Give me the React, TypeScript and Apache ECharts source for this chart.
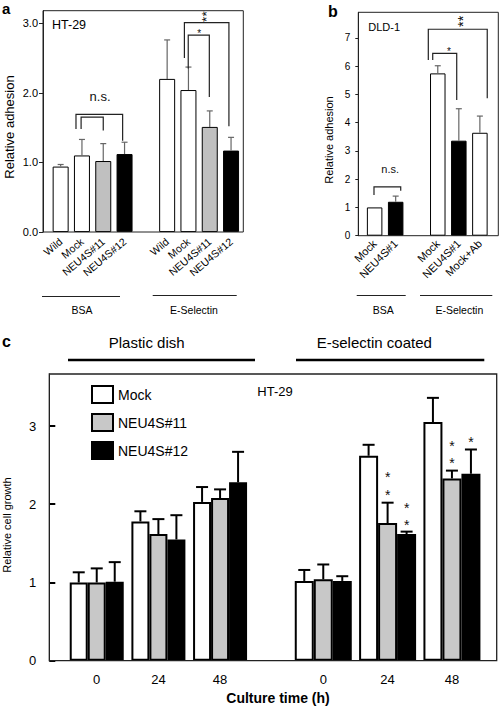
import React, { useEffect, useRef } from 'react';
import * as echarts from 'echarts';

const FONT = '"Liberation Sans", Arial, Helvetica, sans-serif';

// ---------- Panel a : HT-29 relative adhesion ----------
const aCategories = ['Wild', 'Mock', 'NEU4S#11', 'NEU4S#12', '', 'Wild', 'Mock', 'NEU4S#11', 'NEU4S#12'];
const aValues = [0.94, 1.1, 1.02, 1.12, null, 2.2, 2.04, 1.51, 1.17];
const aErrTop = [0.97, 1.33, 1.27, 1.29, null, 2.76, 2.37, 1.74, 1.36];
const aTicks = [0, 1, 2, 3];
const aTickLabels = ['0.0', '1.0', '2.0', '3.0'];
// significance brackets: [left pos, right pos (category units), top, left leg end, right leg end]
const aBrackets = [
  [0.72, 2.91, 1.69, 1.48, 1.31],
  [0.96, 2.0, 1.65, 1.48, 1.46],
  [5.81, 7.9, 3.01, 2.5, 1.52],
  [5.99, 6.98, 2.83, 2.35, 1.94],
];
const aMarkText = ['n.s.', '**', '*'];
const aMarkPos = [[1.85, 1.93], [6.7, 3.095], [6.5, 2.88]];

// ---------- Panel b : DLD-1 relative adhesion ----------
const bCategories = ['Mock', 'NEU4S#1', '', 'Mock', 'NEU4S#1', 'Mock+Ab'];
const bValues = [1.0, 1.2, null, 5.74, 3.36, 3.64];
const bErrTop = [null, 1.4, null, 6.01, 4.49, 4.23];
const bTicks = [0, 1, 2, 3, 4, 5, 6, 7];
const bTickLabels = ['0', '1', '2', '3', '4', '5', '6', '7'];
const bBrackets = [
  [-0.03, 1.24, 1.73, 1.44, 1.59],
  [2.76, 3.9, 6.45, 6.21, 4.8],
  [2.55, 5.35, 7.3, 6.21, 4.86],
];
const bMarkText = ['n.s.', '*', '**'];
const bMarkPos = [[0.74, 2.32], [3.53, 6.59], [4.02, 7.58]];

// group labels under panels a and b
const adhesionGroups = ['BSA', 'E-Selectin'];

// ---------- Panel c : HT-29 relative cell growth ----------
const cTimes = ['0', '24', '48'];
const cClones = ['Mock', 'NEU4S#11', 'NEU4S#12'];
const cTicks = [0, 1, 2, 3];
const cTickLabels = ['0', '1', '2', '3'];
const plasticMock = [1.0, 1.78, 2.03];
const plasticMockErr = [1.13, 1.91, 2.22];
const plastic11 = [1.0, 1.62, 2.08];
const plastic11Err = [1.18, 1.81, 2.19];
const plastic12 = [1.01, 1.55, 2.28];
const plastic12Err = [1.26, 1.86, 2.67];
const eselMock = [1.02, 2.62, 3.05];
const eselMockErr = [1.16, 2.76, 3.36];
const esel11 = [1.04, 1.76, 2.33];
const esel11Err = [1.23, 2.02, 2.43];
const esel12 = [1.02, 1.62, 2.39];
const esel12Err = [1.08, 1.65, 2.7];
// stars: [time index, clone index, value]
const cStars = [
  [1, 1, 2.39], [1, 1, 2.16],
  [1, 2, 2.0], [1, 2, 1.78],
  [2, 1, 2.79], [2, 1, 2.57],
  [2, 2, 2.84],
];

const fillFor = (name: string) =>
  name.startsWith('NEU4S#11') ? '#c0c0c0' : name.startsWith('NEU4S') ? '#000' : '#fff';

function errorSeries(
  xAxisIndex: number, yAxisIndex: number, values: any[], errs: any[],
  color: string, width: number, cap: number, offset: number,
) {
  const data: any[] = [];
  values.forEach((v, i) => {
    if (v != null && errs[i] != null) data.push([i, v, errs[i]]);
  });
  return {
    type: 'custom', xAxisIndex, yAxisIndex, data, z: 5, silent: true,
    encode: { x: 0, y: [1, 2] },
    renderItem: (params: any, api: any) => {
      const i = api.value(0), lo = api.value(1), hi = api.value(2);
      const p0 = api.coord([i, lo]);
      const p1 = api.coord([i, hi]);
      const x = p0[0] + offset;
      const st = { stroke: color, lineWidth: width };
      return {
        type: 'group', children: [
          { type: 'line', shape: { x1: x, y1: p0[1], x2: x, y2: p1[1] }, style: st },
          { type: 'line', shape: { x1: x - cap / 2, y1: p1[1], x2: x + cap / 2, y2: p1[1] }, style: st },
        ],
      };
    },
  };
}

// double star "**" is drawn as one vertically stacked text (rotated a quarter turn)
function annotationSeries(
  xAxisIndex: number, yAxisIndex: number, brackets: number[][], markPos: number[][], markText: string[],
  fsText: number, fsStar: number, fsDouble: number,
) {
  return {
    type: 'custom', xAxisIndex, yAxisIndex, data: [[0, 0]], z: 6, silent: true,
    renderItem: (params: any, api: any) => {
      const sw = api.size([1, 0])[0];
      const px = (pos: number, v: number) => {
        const p = api.coord([0, v]);
        return [p[0] + pos * sw, p[1]];
      };
      const children: any[] = [];
      brackets.forEach((b) => {
        const [l, r, top, lb, rb] = b;
        children.push({
          type: 'polyline',
          shape: { points: [px(l, lb), px(l, top), px(r, top), px(r, rb)] },
          style: { stroke: '#222', lineWidth: 1.2, fill: null },
        });
      });
      markPos.forEach((m, k) => {
        const t = markText[k];
        const p = px(m[0], m[1]);
        const base = { fontFamily: FONT, fill: '#111', align: 'center', verticalAlign: 'middle' };
        if (t === '**') {
          children.push({
            type: 'text', x: p[0] + 0.235 * fsDouble, y: p[1], rotation: Math.PI / 2,
            style: { ...base, text: t, fontSize: fsDouble },
          });
        } else if (t === '*') {
          children.push({
            type: 'text', x: p[0], y: p[1] + 0.235 * fsStar,
            style: { ...base, text: t, fontSize: fsStar },
          });
        } else {
          children.push({
            type: 'text', x: p[0], y: p[1] - 0.06 * fsText,
            style: { ...base, text: t, fontSize: fsText },
          });
        }
      });
      return { type: 'group', children };
    },
  };
}

export default function App() {
  const ref = useRef<HTMLDivElement>(null);

  useEffect(() => {
    if (!ref.current) return;
    const chart = echarts.init(ref.current, undefined, { renderer: 'svg' });

    const tickFmt = (ticks: number[], labels: string[]) => (v: number) => {
      const k = ticks.indexOf(v);
      return k >= 0 ? labels[k] : '';
    };

    const cBarW = [18, 19];
    const cPanels = [
      { values: [plasticMock, plastic11, plastic12], errs: [plasticMockErr, plastic11Err, plastic12Err] },
      { values: [eselMock, esel11, esel12], errs: [eselMockErr, esel11Err, esel12Err] },
    ];

    const series: any[] = [];
    // panel a
    series.push({
      type: 'bar', name: 'a', xAxisIndex: 0, yAxisIndex: 0, barWidth: 16,
      data: aValues.map((v, i) => ({ value: v, itemStyle: { color: fillFor(aCategories[i]) } })),
      itemStyle: { borderColor: '#000', borderWidth: 1 },
    });
    series.push(errorSeries(0, 0, aValues, aErrTop, '#666', 1.2, 6, 0));
    series.push(annotationSeries(0, 0, aBrackets, aMarkPos, aMarkText, 13, 10, 13.6));
    // panel b
    series.push({
      type: 'bar', name: 'b', xAxisIndex: 1, yAxisIndex: 1, barWidth: 15.5,
      data: bValues.map((v, i) => ({ value: v, itemStyle: { color: fillFor(bCategories[i]) } })),
      itemStyle: { borderColor: '#000', borderWidth: 1 },
    });
    series.push(errorSeries(1, 1, bValues, bErrTop, '#666', 1.2, 6, 0));
    series.push(annotationSeries(1, 1, bBrackets, bMarkPos, bMarkText, 11, 10, 14.4));
    // panel c
    const cColors = ['#fff', '#c8c8c8', '#000'];
    cPanels.forEach((panel, g) => {
      panel.values.forEach((vals, s) => {
        series.push({
          type: 'bar', name: cClones[s], xAxisIndex: 2 + g, yAxisIndex: 2 + g,
          barWidth: cBarW[g], barGap: '0%', clip: false, data: vals,
          itemStyle: { color: cColors[s], borderColor: '#000', borderWidth: 2 },
        });
      });
    });
    cPanels.forEach((panel, g) => {
      panel.values.forEach((vals, s) => {
        series.push(errorSeries(2 + g, 2 + g, vals, panel.errs[s], '#000', 2, 12, (s - 1) * cBarW[g]));
      });
    });
    series.push({
      type: 'custom', xAxisIndex: 3, yAxisIndex: 3, data: [[0, 0]], z: 6, silent: true,
      renderItem: (params: any, api: any) => ({
        type: 'group',
        children: cStars.map((st) => {
          const p = api.coord([st[0], st[2]]);
          const fs = 14;
          return {
            type: 'text', x: p[0] + (st[1] - 1) * cBarW[1], y: p[1] + 0.235 * fs,
            style: { text: '*', fontSize: fs, fontFamily: FONT, fill: '#111', align: 'center', verticalAlign: 'middle' },
          };
        }),
      }),
    });

    const txt = (x: number, y: number, text: string, fontSize: number, extra: any = {}) => ({
      type: 'text', x, y, silent: true, z: 20,
      style: { text, fontSize, fontFamily: FONT, fill: '#000', align: 'center', verticalAlign: 'middle', ...(extra.style || {}) },
      ...(extra.el || {}),
    });
    const hline = (x1: number, x2: number, y: number, w: number, color = '#222') => ({
      type: 'line', silent: true, z: 20, shape: { x1, y1: y, x2, y2: y }, style: { stroke: color, lineWidth: w },
    });
    const frame = (x: number, y: number, w: number, h: number, lw: number) => ({
      type: 'rect', silent: true, z: 20, shape: { x, y, width: w, height: h },
      style: { fill: 'none', stroke: '#222', lineWidth: lw },
    });

    const graphics: any[] = [
      frame(43, 10.7, 200.3, 221.3, 1),
      frame(358.3, 12.3, 140, 223.4, 1),
      frame(49.3, 374, 447.4, 286.7, 1.3),
      txt(2, 8, 'a', 15, { style: { align: 'left', fontWeight: 'bold' } }),
      txt(328, 11, 'b', 16, { style: { align: 'left', fontWeight: 'bold' } }),
      txt(2, 341, 'c', 16, { style: { align: 'left', fontWeight: 'bold' } }),
      txt(9, 127, 'Relative adhesion', 13, { el: { rotation: Math.PI / 2 } }),
      txt(329, 140, 'Relative adhesion', 11, { el: { rotation: Math.PI / 2 } }),
      txt(7, 525, 'Relative cell growth', 11, { el: { rotation: Math.PI / 2 } }),
      txt(52, 25, 'HT-29', 12.5, { style: { align: 'left' } }),
      txt(368.3, 26.7, 'DLD-1', 11, { style: { align: 'left' } }),
      txt(257.3, 391.7, 'HT-29', 13, { style: { align: 'left' } }),
      hline(42, 120, 296.5, 1.2),
      hline(152.7, 236.7, 295.5, 1.2),
      txt(82, 310, adhesionGroups[0], 10.5),
      txt(194, 310, adhesionGroups[1], 10.5),
      hline(356.7, 405.7, 295.5, 1.2),
      hline(420, 492.3, 295.5, 1.2),
      txt(383.3, 310, adhesionGroups[0], 10.5),
      txt(459.3, 310, adhesionGroups[1], 10.5),
      txt(146.7, 342.7, 'Plastic dish', 15),
      hline(68, 255, 360, 2.5, '#000'),
      txt(374.3, 342.7, 'E-selectin coated', 15),
      hline(296, 484.3, 360, 2.5, '#000'),
      txt(278, 698.3, 'Culture time (h)', 14, { style: { fontWeight: 'bold' } }),
    ];

    const catAxis = (gridIndex: number, data: string[], labelExtra: any) => ({
      type: 'category', gridIndex, data,
      axisLine: { show: false }, axisTick: { show: false }, splitLine: { show: false },
      axisLabel: { interval: 0, color: '#000', fontFamily: FONT, ...labelExtra },
    });
    const valAxis = (gridIndex: number, max: number, offset: number, ticks: number[], labels: string[], tick: any, label: any, show = true) => ({
      type: 'value', gridIndex, min: 0, max, offset, show,
      axisLine: { show: true, lineStyle: { color: '#222', width: 1 } },
      axisTick: { show: true, customValues: ticks, ...tick },
      axisLabel: { customValues: ticks, formatter: tickFmt(ticks, labels), color: '#000', fontFamily: FONT, ...label },
      splitLine: { show: false },
    });

    const option: any = {
      animation: false,
      backgroundColor: '#fff',
      textStyle: { fontFamily: FONT },
      grid: [
        { left: 50, top: 10.7, width: 191.7, height: 221.3, outerBoundsMode: 'none' },
        { left: 364.1, top: 12.3, width: 126.3, height: 223.4, outerBoundsMode: 'none' },
        { left: 65.9, top: 374, width: 185, height: 286.7, outerBoundsMode: 'none' },
        { left: 291.1, top: 374, width: 193, height: 286.7, outerBoundsMode: 'none' },
      ],
      xAxis: [
        catAxis(0, aCategories, { rotate: 40, fontSize: 10.5, margin: 8 }),
        catAxis(1, bCategories, { rotate: 45, fontSize: 11, margin: 6 }),
        catAxis(2, cTimes, { fontSize: 13, margin: 12 }),
        catAxis(3, cTimes, { fontSize: 13, margin: 12 }),
      ],
      yAxis: [
        valAxis(0, 3.18, 7, aTicks, aTickLabels, { length: 4, lineStyle: { color: '#222' } }, { fontSize: 11, margin: 5 }),
        valAxis(1, 7.9, 5.8, bTicks, bTickLabels, { length: 3, lineStyle: { color: '#222' } }, { fontSize: 10, margin: 8 }),
        valAxis(2, 3.665, 16.6, cTicks, cTickLabels, { inside: true, length: 6, lineStyle: { color: '#000', width: 2 } }, { fontSize: 13, margin: 13 }),
        valAxis(3, 3.665, 0, cTicks, cTickLabels, {}, {}, false),
      ],
      legend: {
        data: cClones, orient: 'vertical', left: 86, top: 380,
        itemWidth: 21, itemHeight: 17, itemGap: 9, icon: 'rect',
        textStyle: { fontSize: 14, color: '#000', fontFamily: FONT },
        selectedMode: false,
      },
      series,
      graphic: { elements: graphics },
    };

    chart.setOption(option);
    return () => chart.dispose();
  }, []);

  return (
    <div
      ref={ref}
      style={{ position: 'absolute', left: 0, top: 0, width: 500, height: 706, background: '#fff' }}
    />
  );
}
